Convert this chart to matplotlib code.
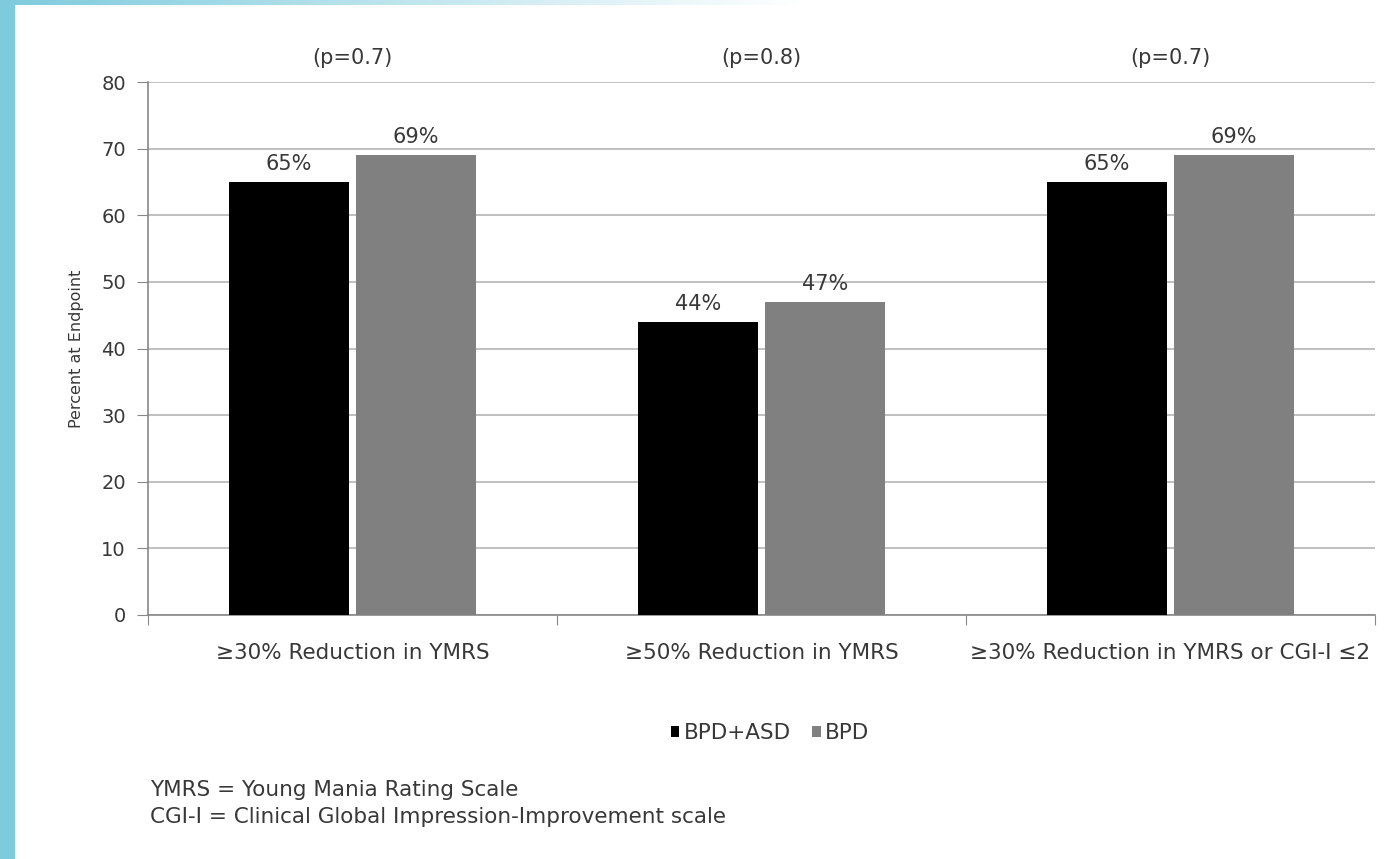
import matplotlib
matplotlib.use("Agg")
import matplotlib.pyplot as plt
import numpy as np
from matplotlib.patches import Rectangle
from matplotlib.colors import LinearSegmentedColormap

plt.rcParams['font.family'] = ['DejaVu Sans']

categories = ["≥30% Reduction in YMRS", "≥50% Reduction in YMRS", "≥30% Reduction in YMRS or CGI-I ≤2"]
bpd_asd = [65, 44, 65]
bpd = [69, 47, 69]
p_values = ["(p=0.7)", "(p=0.8)", "(p=0.7)"]
series_names = ["BPD+ASD", "BPD"]
yticks = [0, 10, 20, 30, 40, 50, 60, 70, 80]

fig = plt.figure(figsize=(13.84, 8.59), dpi=100)
fig.patch.set_facecolor('white')

# decorative left strip and top gradient
fig.patches.append(Rectangle((0, 0), 14/1384, 1, transform=fig.transFigure, color='#7ecbdd', zorder=0))
grad = np.linspace(0, 1, 256).reshape(1, -1)
gax = fig.add_axes([0, 1 - 5/859, 800/1384, 5/859])
cmap = LinearSegmentedColormap.from_list('g', ['#7ecbdd', '#ffffff'])
gax.imshow(grad, aspect='auto', cmap=cmap, extent=[0, 1, 0, 1])
gax.axis('off')

ax = fig.add_axes([148/1384, 1 - 615/859, (1375-148)/1384, (615-82)/859])
x = np.arange(len(categories))
w = 0.295
off = 0.155
txtc = '#383838'
b1 = ax.bar(x - off, bpd_asd, w, color='black', label=series_names[0], zorder=3)
b2 = ax.bar(x + off, bpd, w, color='#808080', label=series_names[1], zorder=3)
for rects, vals in ((b1, bpd_asd), (b2, bpd)):
    for r, v in zip(rects, vals):
        ax.text(r.get_x() + r.get_width()/2, v + 1.2, f"{v}%", ha='center', va='bottom',
                fontsize=15, color=txtc)
for xi, p in zip(x, p_values):
    ax.text(xi, 83.6, p, ha='center', va='center', fontsize=15, color=txtc, clip_on=False)

ax.set_xlim(-0.5, 2.5)
ax.set_ylim(0, 80)
ax.set_yticks(yticks)
ax.yaxis.grid(True, color='#b5b5b5', linewidth=1.2, zorder=0)
ax.set_axisbelow(True)
for s in ['top', 'right']:
    ax.spines[s].set_visible(False)
for s in ['left', 'bottom']:
    ax.spines[s].set_color('#888888')
    ax.spines[s].set_linewidth(1.2)
ax.tick_params(axis='y', length=8, color='#888888', labelsize=14, labelcolor=txtc, pad=8)
ax.set_xticks([-0.5, 0.5, 1.5, 2.5])
ax.set_xticklabels([])
ax.tick_params(axis='x', length=7, color='#888888')
ax.set_xticks(x, minor=True)
ax.set_xticklabels(categories, minor=True)
ax.tick_params(axis='x', which='minor', length=0, pad=20, labelsize=15.5, labelcolor=txtc)
ax.set_ylabel("Percent at Endpoint", fontsize=11.5, color=txtc, labelpad=12)

leg = fig.legend(handles=[b1, b2], labels=series_names, loc='center', bbox_to_anchor=(770/1384, 1 - 733/859),
                 ncol=2, frameon=False, fontsize=15.5, handlelength=0.4, handleheight=0.4,
                 handletextpad=0.2, columnspacing=1.0)
for t in leg.get_texts():
    t.set_color(txtc)

fig.text(150/1384, 1 - 790/859, "YMRS = Young Mania Rating Scale", fontsize=15.5, color=txtc, va='center')
fig.text(150/1384, 1 - 817/859, "CGI-I = Clinical Global Impression-Improvement scale", fontsize=15.5, color=txtc, va='center')

fig.savefig("out.png", dpi=100)
